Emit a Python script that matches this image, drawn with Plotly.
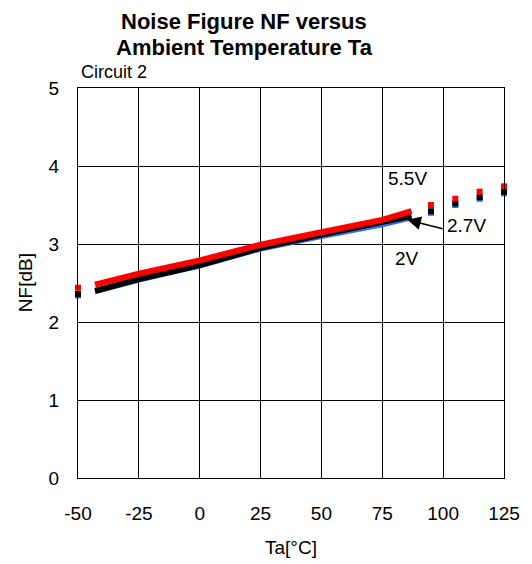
import plotly.graph_objects as go

# Solid measured segment
ta_line = [-43, -25, 0, 25, 50, 75, 87]
nf_2v = [2.38, 2.53, 2.71, 2.93, 3.09, 3.24, 3.33]
nf_27v = [2.40, 2.55, 2.73, 2.95, 3.12, 3.27, 3.36]
nf_55v = [2.48, 2.62, 2.79, 2.99, 3.15, 3.31, 3.42]

# Dotted extrapolated points
ta_dots = [-50, 95, 105, 115, 125]
nf_2v_dots = [2.34, 3.40, 3.50, 3.58, 3.65]
nf_27v_dots = [2.36, 3.42, 3.52, 3.60, 3.67]
nf_55v_dots = [2.44, 3.50, 3.58, 3.67, 3.74]

x_ticks = [-50, -25, 0, 25, 50, 75, 100, 125]
x_tick_text = ["-50", "-25", "0", "25", "50", "75", "100", "125"]
y_ticks = [0, 1, 2, 3, 4, 5]

FONT = "Liberation Sans, Arial, sans-serif"

series = [
    ("2V", nf_2v, nf_2v_dots, "#3366ff", 4),
    ("2.7V", nf_27v, nf_27v_dots, "#000000", 6),
    ("5.5V", nf_55v, nf_55v_dots, "#ff0000", 6),
]

fig = go.Figure()
for name, ys, ds, color, w in series:
    fig.add_trace(go.Scatter(x=ta_line, y=ys, mode="lines", name=name,
                             line=dict(color=color, width=w), showlegend=False))
    fig.add_trace(go.Scatter(x=ta_dots, y=ds, mode="markers", name=name,
                             marker=dict(symbol="square", size=6, color=color,
                                         line=dict(width=0)),
                             cliponaxis=False, showlegend=False))

axis_common = dict(showline=True, linecolor="#000000", linewidth=1, mirror=True,
                   showgrid=True, gridcolor="#000000", gridwidth=1, zeroline=False,
                   ticks="outside", ticklen=0, tickcolor="rgba(0,0,0,0)",
                   tickfont=dict(family=FONT, size=19, color="#000000"))

fig.update_xaxes(range=[-50, 125], tickvals=x_ticks, ticktext=x_tick_text,
                 ticklabelstandoff=18, **axis_common)
fig.update_yaxes(range=[0, 5], tickvals=y_ticks, ticklabelstandoff=14, **axis_common)


def label(text, x, y, ref="paper", size=19, xanchor="center", angle=0):
    return dict(text=text, x=x, y=y, xref="paper" if ref == "paper" else "x",
                yref="paper" if ref == "paper" else "y", xanchor=xanchor,
                yanchor="middle", textangle=angle, showarrow=False,
                font=dict(family=FONT, size=size, color="#000000"))


ann = [
    label("<b>Noise Figure NF versus</b>", 0.39, 1.17, size=22),
    label("<b>Ambient Temperature Ta</b>", 0.39, 1.103, size=22),
    label("Circuit 2", 0.003, 1.041, size=18, xanchor="left"),
    label("Ta[°C]", 0.5, -0.179),
    label("NF[dB]", -0.124, 0.5, angle=-90),
    label("5.5V", 85.3, 3.84, ref="data"),
    label("2V", 85.3, 2.81, ref="data"),
    label("2.7V", 109.4, 3.24, ref="data"),
    dict(text="", x=85.3, y=3.31, xref="x", yref="y", ax=100.4, ay=3.19,
         axref="x", ayref="y", showarrow=True, arrowhead=2, arrowsize=1.8,
         arrowwidth=1.5, arrowcolor="#000000"),
]

fig.update_layout(width=532, height=564, margin=dict(l=78, r=28, t=88, b=86),
                  paper_bgcolor="#ffffff", plot_bgcolor="#ffffff",
                  annotations=ann, showlegend=False)

fig.write_html("out.html")
